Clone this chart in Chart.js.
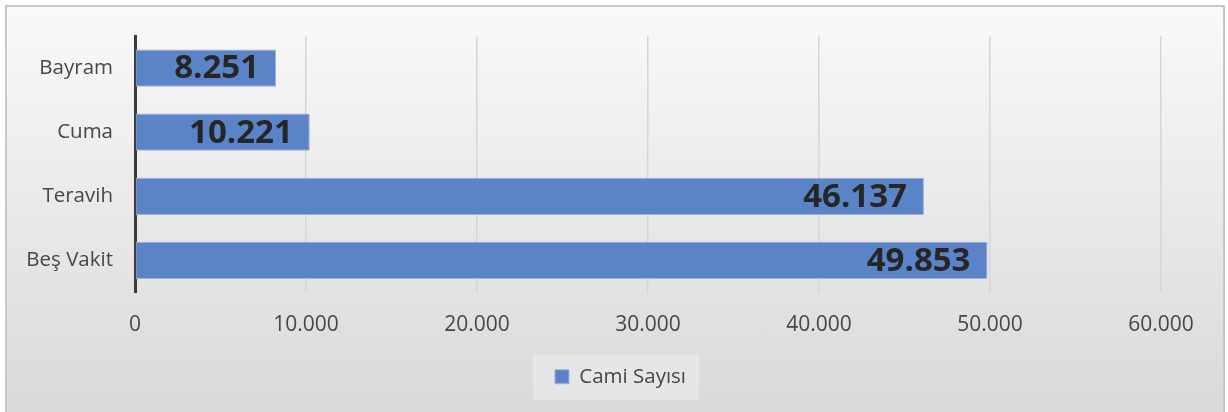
<!DOCTYPE html>
<html>
<head>
<meta charset="utf-8">
<script src="https://cdn.jsdelivr.net/npm/chart.js@4"></script>
<style>
  html, body { margin: 0; padding: 0; background: #fff; overflow: hidden; }
  #frame {
    position: absolute; left: 5px; top: 5px; width: 1216px; height: 420px;
    border: 2px solid #c8c8c8;
    background: linear-gradient(to bottom, #f9f9f9 0%, #d8d8d8 100%);
  }
  #wrap { position: absolute; left: 0; top: 0; width: 1228px; height: 412px; }
</style>
</head>
<body>
<div id="frame"></div>
<div id="wrap"><canvas id="chart" width="1228" height="412"></canvas></div>
<script>
const categories = ['Bayram', 'Cuma', 'Teravih', 'Beş Vakit'];
const camiSayisi = [8251, 10221, 46137, 49853];
const seriesName = 'Cami Sayısı';
const xTicks = [0, 10000, 20000, 30000, 40000, 50000, 60000];

function formatTr(v) {
    return v.toString().replace(/\B(?=(\d{3})+(?!\d))/g, '.');
}

Chart.defaults.font.family = "'Open Sans', sans-serif";
Chart.defaults.color = '#474747';

// value labels drawn inside the bar end
const barLabels = {
    id: 'barLabels',
    afterDatasetsDraw(chart) {
        const ctx = chart.ctx;
        const meta = chart.getDatasetMeta(0);
        ctx.save();
        ctx.font = "bold 33px 'Open Sans', sans-serif";
        ctx.fillStyle = '#262626';
        ctx.textAlign = 'right';
        ctx.textBaseline = 'middle';
        meta.data.forEach(function (bar, i) {
            ctx.fillText(formatTr(chart.data.datasets[0].data[i]), bar.x - 17, bar.y + 1);
        });
        ctx.restore();
    }
};

// legend is centred on the whole frame, not on the plot; plus a light box behind it
const legendBox = {
    id: 'legendBox',
    afterLayout(chart) {
        if (chart.legend) {
            chart.legend.left += 40;
            chart.legend.right += 40;
        }
    },
    beforeDraw(chart) {
        const hb = chart.legend && chart.legend.legendHitBoxes && chart.legend.legendHitBoxes[0];
        if (!hb) return;
        const ctx = chart.ctx;
        ctx.save();
        ctx.fillStyle = 'rgba(236,236,236,0.6)';
        ctx.fillRect(hb.left - 22, hb.top - 12, hb.width + 35, hb.height + 25);
        ctx.restore();
    }
};

const ctx = document.getElementById('chart').getContext('2d');
new Chart(ctx, {
    type: 'bar',
    data: {
        labels: categories,
        datasets: [{
            label: seriesName,
            data: camiSayisi,
            backgroundColor: '#5b84c8',
            borderColor: '#9db3df',
            borderWidth: 1,
            borderSkipped: false,
            categoryPercentage: 1,
            barPercentage: 0.58
        }]
    },
    options: {
        indexAxis: 'y',
        responsive: false,
        animation: false,
        layout: { padding: { top: 36, right: 67, left: 0, bottom: 15 } },
        scales: {
            x: {
                min: 0,
                max: 60000,
                afterBuildTicks(scale) {
                    scale.ticks = xTicks.map(v => ({ value: v }));
                },
                afterFit(scale) { scale.height = 64; },
                grid: { color: '#d6d6d6', lineWidth: 1.5, drawTicks: false },
                border: { display: false },
                ticks: {
                    padding: 20,
                    font: { size: 21 },
                    callback: v => formatTr(v)
                }
            },
            y: {
                afterFit(scale) { scale.width = 135; },
                grid: { display: false, drawTicks: false },
                border: { color: '#3a3a3a', width: 3 },
                ticks: { padding: 22, font: { size: 20.5 } }
            }
        },
        plugins: {
            legend: {
                position: 'bottom',
                labels: {
                    boxWidth: 14,
                    boxHeight: 14,
                    padding: 10,
                    font: { size: 20.5 }
                }
            },
            tooltip: { enabled: false }
        }
    },
    plugins: [legendBox, barLabels]
});
</script>
</body>
</html>
